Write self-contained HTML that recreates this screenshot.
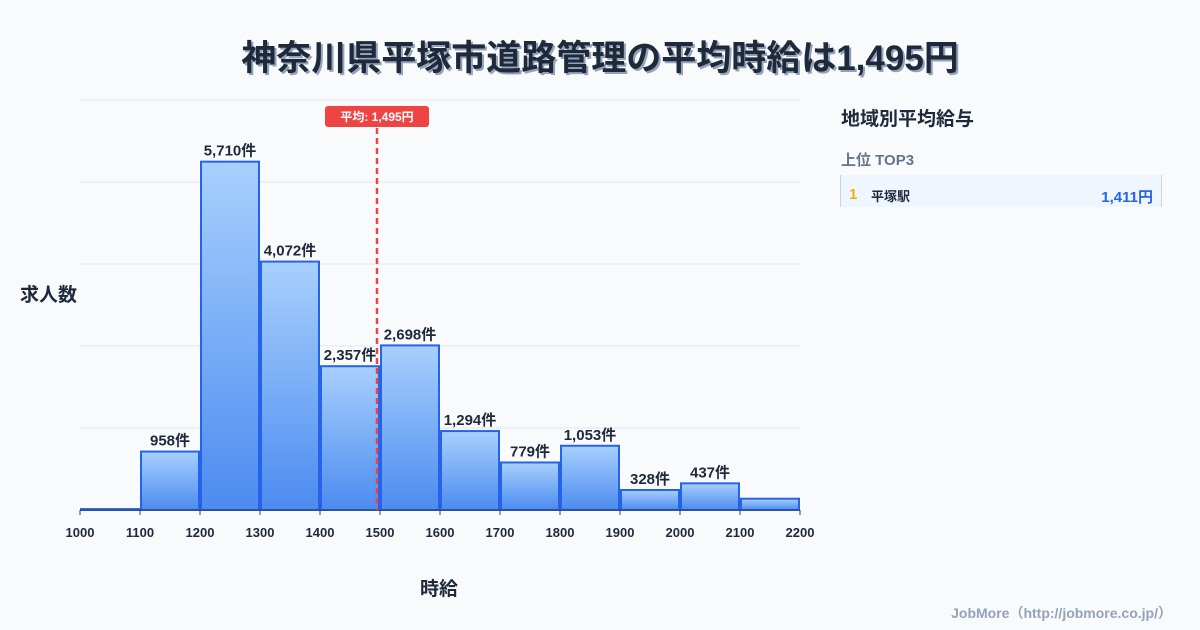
<!DOCTYPE html>
<html><head><meta charset="utf-8">
<style>
body{margin:0;width:1200px;height:630px;background:#f8fafc;font-family:"Liberation Sans","Noto Sans CJK JP",sans-serif;overflow:hidden;position:relative}
.t{position:absolute}
</style></head><body>
<div class="t" style="left:0;width:1200px;top:30px;text-align:center;font-size:35px;font-weight:bold;color:#1e293b;text-shadow:2px 2px 0 #94a3b8">神奈川県平塚市道路管理の平均時給は1,495円</div>
<svg class="t" style="left:0;top:0" width="1200" height="630" id="chart">
<defs><linearGradient id="g" x1="0" y1="0" x2="0" y2="1"><stop offset="0" stop-color="#a8d0fd"/><stop offset="1" stop-color="#4c8bf0"/></linearGradient></defs>
<g id="grid"></g><g id="bars"></g><g id="ticks"></g>
</svg>
<div class="t" style="left:20px;top:280px;font-size:19px;font-weight:bold;color:#1e293b">求人数</div>
<div class="t" style="left:420px;top:574px;font-size:19px;font-weight:bold;color:#1e293b">時給</div>
<div class="t" style="left:841px;top:104px;font-size:19px;font-weight:bold;color:#1e293b">地域別平均給与</div>
<div class="t" style="left:841px;top:149px;font-size:15px;font-weight:bold;color:#64748b">上位 TOP3</div>
<div class="t" style="left:840px;top:175px;width:320px;height:32px;background:#eff6ff;border-left:1px solid #cbd5e1;border-right:1px solid #cbd5e1">
<span class="t" style="left:8px;top:11px;font-size:15px;font-weight:bold;color:#eab308">1</span>
<span class="t" style="left:30px;top:11px;font-size:13px;font-weight:bold;color:#1e293b">平塚駅</span>
<span class="t" style="right:8px;top:11px;font-size:15px;font-weight:bold;color:#2563eb">1,411円</span>
</div>
<div class="t" style="right:28px;top:603px;font-size:14px;font-weight:bold;color:#94a3b8">JobMore（http://jobmore.co.jp/）</div>
<script>
const binStarts=[1000,1100,1200,1300,1400,1500,1600,1700,1800,1900,2000,2100];
const counts=[15,958,5710,4072,2357,2698,1294,779,1053,328,437,185];
const showLabel=[false,true,true,true,true,true,true,true,true,true,true,false];
const xTicks=[1000,1100,1200,1300,1400,1500,1600,1700,1800,1900,2000,2100,2200];
const avg=1495;
const ns="http://www.w3.org/2000/svg";
const X0=80,X1=800,Y0=510,YT=100,xmin=1000,xmax=2200;
const ymax=Math.max(...counts)*1.177;
const x=v=>X0+(v-xmin)/(xmax-xmin)*(X1-X0);
const y=v=>Y0-v/ymax*(Y0-YT);
function mk(t,a,p){const e=document.createElementNS(ns,t);for(const k in a)e.setAttribute(k,a[k]);p.appendChild(e);return e;}
const grid=document.getElementById('grid'),bars=document.getElementById('bars'),ticks=document.getElementById('ticks');
for(let i=0;i<=5;i++){const gy=Y0-i*(Y0-YT)/5;const l=mk('line',{x1:X0,x2:X1,y1:gy,y2:gy,stroke:'#e2e8f0','stroke-width':1},grid);

}
binStarts.forEach((b,i)=>{const x1=x(b)+1,x2=x(b+100)-1,ty=y(counts[i]);
const r=mk('rect',{x:x1,y:ty,width:x2-x1,height:Y0-ty,fill:'url(#g)',stroke:'#2563eb','stroke-width':2},bars);


if(showLabel[i]){const t=mk('text',{x:(x1+x2)/2,y:ty-6,'text-anchor':'middle','font-size':15,'font-weight':'bold',fill:'#1e293b'},bars);t.textContent=counts[i].toLocaleString('en-US')+'件';

}});
mk('line',{x1:X0,x2:X1,y1:Y0,y2:Y0,stroke:'#334155','stroke-width':1},ticks);
xTicks.forEach(v=>{mk('line',{x1:x(v),x2:x(v),y1:Y0,y2:Y0+5,stroke:'#334155'},ticks);
const t=mk('text',{x:x(v),y:Y0+27,'text-anchor':'middle','font-size':13,'font-weight':'bold',fill:'#1e293b'},ticks);t.textContent=v;

});
const ax=x(avg);
const al=mk('line',{x1:ax,x2:ax,y1:128,y2:Y0,stroke:'#ef4444','stroke-width':2.5,'stroke-dasharray':'6,4'},ticks);


const ab=mk('rect',{x:ax-52,y:106,width:104,height:21,rx:3,fill:'#ef4444'},ticks);


const at=mk('text',{x:ax,y:121,'text-anchor':'middle','font-size':12,'font-weight':'bold',fill:'#fff'},ticks);at.textContent='平均: '+avg.toLocaleString('en-US')+'円';


</script>
</body></html>
